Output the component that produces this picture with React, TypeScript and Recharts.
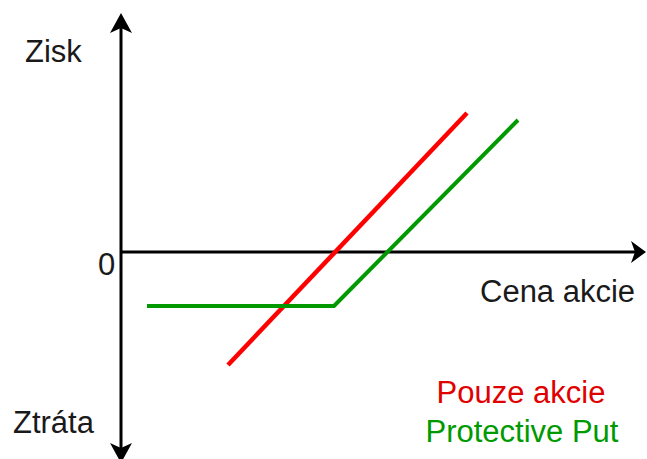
import { LineChart, Line, XAxis, YAxis, ReferenceLine } from "recharts"

// payoff diagram, x = stock price, y = profit (arbitrary units)
const pouzeAkcie = [
  { x: 107, y: -113 },
  { x: 346, y: 139 },
];

const protectivePut = [
  { x: 26, y: -54 },
  { x: 213, y: -54 },
  { x: 397, y: 132 },
];

const priceDomain = [0, 525];
const profitDomain = [-211, 239];

const labels = {
  zisk: "Zisk",
  ztrata: "Ztráta",
  zero: "0",
  price: "Cena akcie",
  stockOnly: "Pouze akcie",
  put: "Protective Put",
};

const RED = "#ff0000";
const GREEN = "#009a00";
const INK = "#1a1a1a";

const VerticalArrowAxis = (props: any) => {
  const { x1, y1, y2 } = props;
  const top = Math.min(y1, y2);
  const bottom = Math.max(y1, y2);
  const x = x1;
  return (
    <g>
      <line x1={x} y1={top + 12} x2={x} y2={bottom - 12} stroke="#000" strokeWidth={3} />
      <polygon points={`${x},${top} ${x + 11},${top + 20} ${x},${top + 15} ${x - 11},${top + 20}`} fill="#000" />
      <polygon points={`${x},${bottom} ${x + 11},${bottom - 20} ${x},${bottom - 15} ${x - 11},${bottom - 20}`} fill="#000" />
    </g>
  );
};

const HorizontalArrowAxis = (props: any) => {
  const { x1, x2, y1 } = props;
  const left = Math.min(x1, x2);
  const right = Math.max(x1, x2);
  const y = y1;
  return (
    <g>
      <line x1={left} y1={y} x2={right - 10} y2={y} stroke="#000" strokeWidth={3} />
      <polygon points={`${right},${y} ${right - 15},${y + 11} ${right - 11},${y} ${right - 15},${y - 11}`} fill="#000" />
    </g>
  );
};

export default function App() {
  const font = { fontFamily: "'Liberation Sans', Arial, sans-serif", fontSize: 31 };
  return (
    <div style={{ position: "fixed", left: 0, top: 0, width: 647, height: 459, overflow: "hidden", background: "#fff" }}>
      <LineChart width={647} height={466} margin={{ top: 13, right: 1, bottom: 3, left: 121 }}>
        <XAxis type="number" dataKey="x" domain={priceDomain} hide allowDataOverflow />
        <YAxis type="number" dataKey="y" domain={profitDomain} hide allowDataOverflow />
        <ReferenceLine x={0} shape={VerticalArrowAxis} />
        <ReferenceLine y={0} shape={HorizontalArrowAxis} />
        <Line data={pouzeAkcie} dataKey="y" stroke={RED} strokeWidth={4.5} dot={false} isAnimationActive={false} />
        <Line data={protectivePut} dataKey="y" stroke={GREEN} strokeWidth={4} dot={false} isAnimationActive={false} />
      </LineChart>
      <svg width={647} height={459} style={{ position: "absolute", left: 0, top: 0, pointerEvents: "none" }}>
        <g style={font}>
          <text x={25} y={62} fill={INK}>{labels.zisk}</text>
          <text x={98} y={275} fill={INK}>{labels.zero}</text>
          <text x={13} y={433} fill={INK}>{labels.ztrata}</text>
          <text x={480} y={302} fill={INK}>{labels.price}</text>
          <text x={521} y={403} fill="#e00000" textAnchor="middle">{labels.stockOnly}</text>
          <text x={522} y={442} fill={GREEN} textAnchor="middle">{labels.put}</text>
        </g>
      </svg>
    </div>
  );
}
